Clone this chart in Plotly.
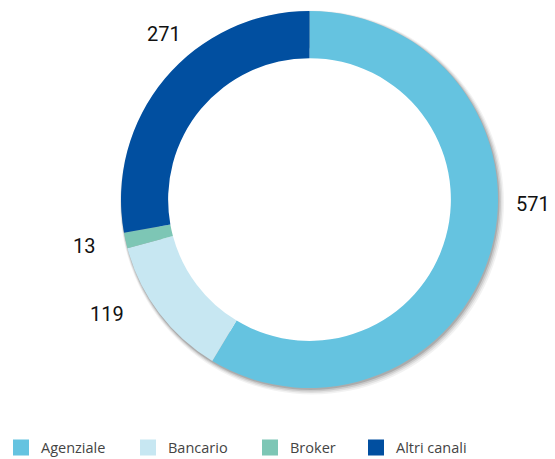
import plotly.graph_objects as go

labels = ["Agenziale", "Bancario", "Broker", "Altri canali"]
values = [571, 119, 13, 271]
colors = ["#65C3E0", "#C7E7F2", "#7DC6B5", "#014FA0"]

W, H = 555, 459
cx, cy, R = 309.5, 199.5, 188.5

def dom(x, y, r):
    return dict(x=[(x - r) / W, (x + r) / W], y=[(H - y - r) / H, (H - y + r) / H])

fig = go.Figure()

# soft drop shadow (decoration)
for dr, dx, dy, op in [(3.5, 2.5, 3.0, 0.05), (2.5, 2.0, 2.5, 0.07), (1.5, 1.5, 2.0, 0.10), (0.5, 1.0, 1.5, 0.14)]:
    r = R + dr
    fig.add_trace(go.Pie(
        values=[sum(values)], labels=["shadow"],
        marker=dict(colors=[f"rgba(0,0,0,{op})"], line=dict(width=0)),
        hole=(R - 35) / r, sort=False, textinfo="none", hoverinfo="skip",
        showlegend=False, domain=dom(cx + dx, cy + dy, r),
    ))

fig.add_trace(go.Pie(
    labels=labels, values=values,
    marker=dict(colors=colors, line=dict(width=0)),
    hole=0.75, sort=False, direction="clockwise", rotation=0,
    textinfo="none", showlegend=False,
    hoverinfo="label+value",
    domain=dom(cx, cy, R),
))

# value labels
label_pos = [(533, 204), (107, 314), (84, 246), (164, 33.5)]
for v, (lx, ly) in zip(values, label_pos):
    fig.add_annotation(
        x=lx / W, y=1 - ly / H, xref="paper", yref="paper",
        text=str(v), showarrow=False, xanchor="center", yanchor="middle",
        font=dict(family="Roboto", size=20, color="#111111"),
    )

# legend entries, one legend per entry so each can sit where the reference has it
legend_x = [1, 128, 250, 356]
legend_names = ["legend", "legend2", "legend3", "legend4"]
legend_layout = {}
for name, col, lg, lx in zip(labels, colors, legend_names, legend_x):
    fig.add_trace(go.Scatter(
        x=[None], y=[None], mode="markers", name=name,
        marker=dict(symbol="square", size=16, color=col),
        showlegend=True, legend=lg, hoverinfo="skip",
    ))
    legend_layout[lg] = dict(
        x=lx / W, y=-0.0102, xanchor="left", yanchor="bottom", orientation="h",
        font=dict(family="Open Sans", size=14.5, color="#444444"),
        itemwidth=30, bgcolor="rgba(0,0,0,0)",
    )

fig.update_layout(
    width=W, height=H,
    margin=dict(l=0, r=0, t=0, b=0, autoexpand=False),
    paper_bgcolor="white", plot_bgcolor="rgba(0,0,0,0)",
    xaxis=dict(visible=False), yaxis=dict(visible=False),
    **legend_layout,
)
fig.write_html("out.html", config={"displayModeBar": False},
               post_script="document.body.style.margin='0';")
